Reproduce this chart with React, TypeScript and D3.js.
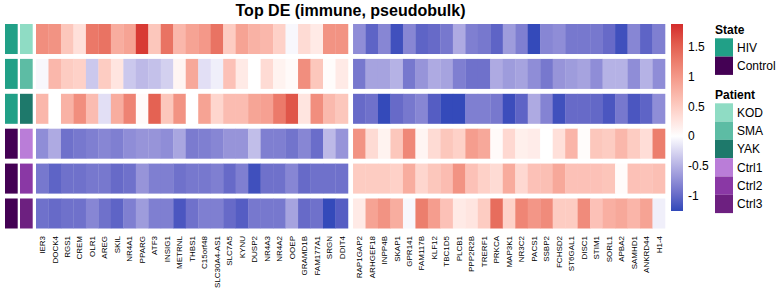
import React from "react";
import * as d3 from "d3";

// genes, split into up (HIV) / down blocks
const upGenes = ["IER3", "DOCK4", "RGS1", "CREM", "OLR1", "AREG", "SKIL", "NR4A1", "PPARG", "ATF3", "INSIG1", "METRNL", "THBS1", "C15orf48", "SLC30A4-AS1", "SLC7A5", "KYNU", "DUSP2", "NR4A3", "NR4A2", "OOEP", "GRAMD1B", "FAM177A1", "SRGN", "DDIT4"];
const downGenes = ["RAP1GAP2", "ARHGEF18", "INPP4B", "SKAP1", "GPR141", "FAM117B", "KLF12", "TBC1D5", "PLCB1", "PPP2R2B", "TRERF1", "PRKCA", "MAP3K1", "NR3C2", "PACS1", "SSBP2", "FCHSD2", "ST6GAL1", "DISC1", "STIM1", "SORL1", "APBA2", "SAMHD1", "ANKRD44", "H1-4"];

const patients = ["KOD", "SMA", "YAK", "Ctrl1", "Ctrl2", "Ctrl3"];
const states = ["HIV", "HIV", "HIV", "Control", "Control", "Control"];

const stateLevels = ["HIV", "Control"];
const stateColors = ["#21a087", "#440154"];
const patientColors = ["#8fdcc4", "#5dbca4", "#1e796b", "#ba7dd8", "#8a38a5", "#6d2080"];

// z-scores, one array per patient (up block then down block)
const kodUp = [1.1, 1.05, 0.55, 0.3, 1.3, 1.35, 0.8, 0.9, 1.8, 0.55, 1.35, 0.7, 0.9, 1.0, 1.35, 0.5, 0.9, 0.75, 0.7, 0.45, -0.05, 0.35, 0.2, 1.05, 1.05];
const kodDown = [-0.75, -1.05, -0.8, -1.2, -0.8, -1.05, -1.0, -0.9, -0.55, -0.85, -0.9, -1.05, -0.65, -0.85, -1.25, -0.8, -0.75, -0.9, -0.9, -0.9, -1.0, -1.2, -0.8, -1.05, -0.85];
const smaUp = [-0.05, 0.7, 0.5, 0.45, -0.35, 0.5, 0.25, -0.35, -0.45, -0.4, -0.3, 0.1, 0.85, -0.2, -0.1, 0.6, 0.2, 0, 0.35, 0.12, 0.05, 1.1, 0.55, 0.03, 0.2];
const smaDown = [-0.9, -0.6, -0.6, -0.5, -0.9, -0.7, -0.55, -0.6, -0.85, -0.95, -0.95, -0.55, -0.65, -0.6, -0.75, -0.9, -0.7, -0.65, -0.6, -0.75, -0.5, -0.5, -0.75, -0.5, -0.75];
const yakUp = [0.7, 0, 0.75, 1.1, 0.65, -0.2, 0.8, 1.2, 0.05, 1.5, 0.55, 1.05, 0, 0.9, 0.4, 0.65, 0.65, 0.88, 0.92, 1.28, 1.6, 0.25, 1.1, 0.68, 0.55];
const yakDown = [-1.0, -0.95, -1.25, -1.0, -0.9, -0.8, -1.1, -1.25, -1.25, -0.85, -0.85, -0.9, -1.22, -1.05, -0.55, -0.82, -1.2, -1.0, -1.0, -1.02, -1.15, -0.9, -1.15, -1.05, -0.75];
const ctrl1Up = [-0.75, -0.55, -0.95, -0.9, -0.85, -0.8, -0.85, -0.75, -0.7, -0.7, -0.75, -0.58, -0.88, -0.85, -0.8, -0.7, -0.7, -0.42, -0.85, -0.85, -0.93, -0.8, -0.98, -0.45, -0.7];
const ctrl1Down = [1.05, 0.35, 0.12, 0.55, 1.15, 0.1, 0.35, 0.55, 0.45, 0.95, 0.85, 0.05, 0.38, 0.15, 0.18, 0, 0.3, 0.72, 0.03, 0.55, 0.5, 0.7, 0.5, 0.33, 1.25];
const ctrl2Up = [-0.9, -1.05, -0.95, -0.95, -0.9, -0.9, -1.0, -0.95, -0.7, -0.85, -0.85, -0.95, -0.9, -0.9, -0.85, -1.0, -0.85, -1.2, -0.95, -0.95, -0.8, -1.0, -0.95, -0.95, -0.95];
const ctrl2Down = [0.5, 0.5, 0.5, 0.45, 0.8, 0.4, 0.55, 0.65, 1.05, 0.6, 0.45, 0.35, 0.82, 0.38, 0.6, 0.62, 0.85, 0.6, 0.6, 0.6, 0.57, 0.04, 0.6, 0.58, 0.62];
const ctrl3Up = [-0.95, -1.0, -0.95, -0.95, -0.8, -0.95, -1.05, -0.85, -0.65, -0.85, -0.85, -1.15, -0.95, -0.85, -0.85, -1.0, -1.1, -0.9, -0.9, -0.9, -0.6, -1.0, -0.95, -1.25, -1.1];
const ctrl3Down = [0.2, 0.9, 1.05, 0.8, -0.05, 1.25, 0.95, 0.6, 0.2, 0.25, 0.5, 1.4, 0.45, 1.18, 1.02, 1.12, 0.5, 0.5, 1.12, 0.6, 0.78, 0.85, 0.72, 0.9, -0.1];

const upValues = [kodUp, smaUp, yakUp, ctrl1Up, ctrl2Up, ctrl3Up];
const downValues = [kodDown, smaDown, yakDown, ctrl1Down, ctrl2Down, ctrl3Down];

const legendTicks = [1.5, 1, 0.5, 0, -0.5, -1];
const zMin = -1.263;
const zMax = 1.886;

const font = "'Liberation Sans', Arial, sans-serif";

export default function App() {
  const W = 783;
  const H = 292;

  const color = d3
    .scaleLinear<string>()
    .domain([zMin, 0, zMax])
    .range(["#3148b9", "#ffffff", "#d42c2c"])
    .interpolate(d3.interpolateLab)
    .clamp(true);

  const y = d3.scaleBand().domain(patients).range([24, 228.5]).paddingInner(0.14);
  const block = d3.scaleBand().domain(["up", "down"]).range([36, 665]).paddingInner(0.016);
  const xUp = d3.scaleBand().domain(upGenes).range([block("up")!, block("up")! + block.bandwidth()]);
  const xDown = d3.scaleBand().domain(downGenes).range([block("down")!, block("down")! + block.bandwidth()]);

  const stateColor = d3.scaleOrdinal<string>().domain(stateLevels).range(stateColors);
  const patientColor = d3.scaleOrdinal<string>().domain(patients).range(patientColors);

  // colour bar
  const cbY = d3.scaleLinear().domain([zMin, zMax]).range([211, 24]);
  const gradStops = d3.range(0, 11).map((i) => zMin + ((zMax - zMin) * i) / 10);

  const blocks = [
    { genes: upGenes, x: xUp, values: upValues },
    { genes: downGenes, x: xDown, values: downValues },
  ];

  const swatch = 18.3;

  return (
    <svg width={W} height={H} style={{ position: "absolute", left: 0, top: 0, fontFamily: font }}>
      <defs>
        <linearGradient id="cb" x1="0" y1="1" x2="0" y2="0">
          {gradStops.map((v, i) => (
            <stop key={i} offset={`${(i / 10) * 100}%`} stopColor={color(v)} />
          ))}
        </linearGradient>
      </defs>

      <text x={350.5} y={15.5} textAnchor="middle" fontSize={16} fontWeight="bold">
        Top DE (immune, pseudobulk)
      </text>

      {/* row annotations */}
      {patients.map((p, i) => (
        <g key={p}>
          <rect x={5} y={y(p)} width={12.7} height={y.bandwidth()} fill={stateColor(states[i])} />
          <rect x={20} y={y(p)} width={12.7} height={y.bandwidth()} fill={patientColor(p)} />
        </g>
      ))}

      {/* heatmap cells */}
      {blocks.map((b, bi) => (
        <g key={bi}>
          {patients.map((p, ri) =>
            b.genes.map((g, ci) => (
              <rect
                key={p + g}
                x={b.x(g)}
                y={y(p)}
                width={b.x.bandwidth() + 0.3}
                height={y.bandwidth()}
                fill={color(b.values[ri][ci])}
              />
            ))
          )}
          {b.genes.map((g) => (
            <text
              key={g}
              transform={`translate(${b.x(g)! + b.x.bandwidth() / 2},236) rotate(-90)`}
              textAnchor="end"
              dy="0.35em"
              fontSize={8}
            >
              {g}
            </text>
          ))}
        </g>
      ))}

      {/* colour bar */}
      <rect x={671} y={24} width={12} height={187} fill="url(#cb)" />
      {legendTicks.map((t) => (
        <text key={t} x={688} y={cbY(t)} dy="0.35em" fontSize={12}>
          {t}
        </text>
      ))}

      {/* State legend */}
      <text x={715} y={34} fontSize={12} fontWeight="bold">
        State
      </text>
      {stateLevels.map((s, i) => (
        <g key={s}>
          <rect x={715} y={38.3 + i * swatch} width={18} height={swatch} fill={stateColor(s)} />
          <text x={737} y={38.3 + i * swatch + swatch / 2} dy="0.35em" fontSize={12}>
            {s}
          </text>
        </g>
      ))}

      {/* Patient legend */}
      <text x={715} y={99} fontSize={12} fontWeight="bold">
        Patient
      </text>
      {patients.map((p, i) => (
        <g key={p}>
          <rect x={715} y={103.3 + i * swatch} width={18} height={swatch} fill={patientColor(p)} />
          <text x={737} y={103.3 + i * swatch + swatch / 2} dy="0.35em" fontSize={12}>
            {p}
          </text>
        </g>
      ))}
    </svg>
  );
}
